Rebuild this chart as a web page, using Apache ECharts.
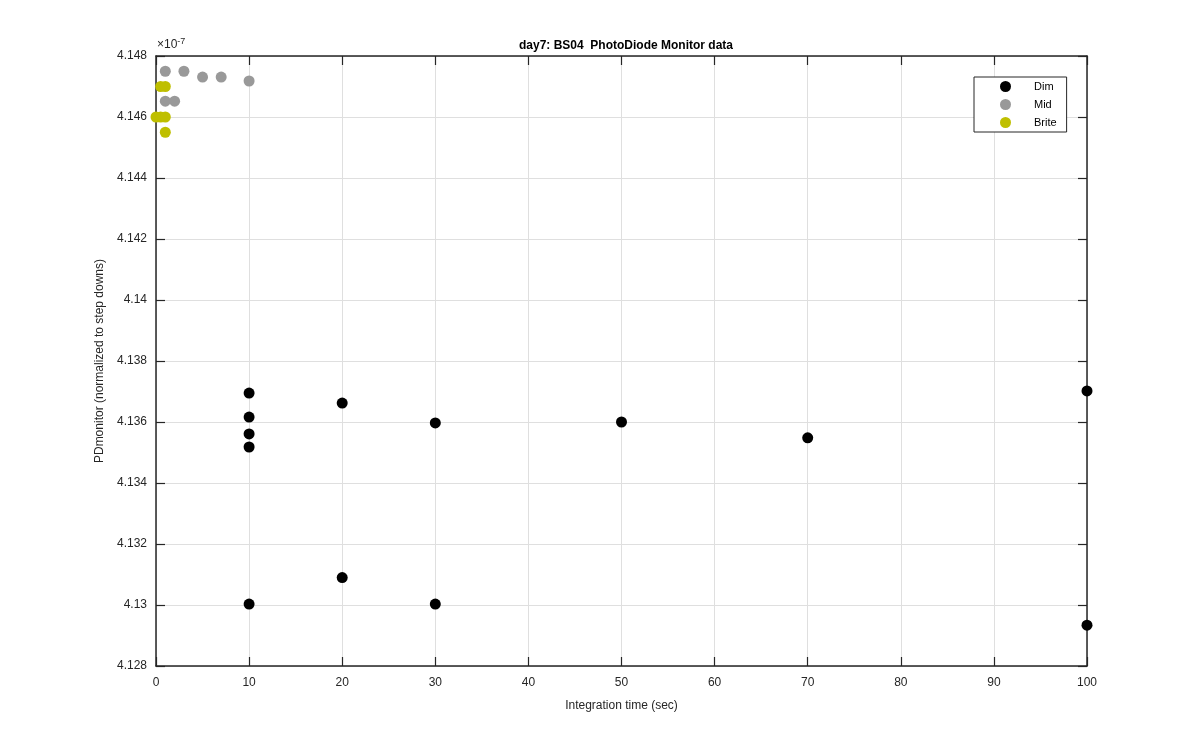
<!DOCTYPE html>
<html><head><meta charset="utf-8">
<script src="https://cdn.jsdelivr.net/npm/echarts@6/dist/echarts.min.js"></script>
<style>html,body{margin:0;padding:0;background:#fff}#c{width:1200px;height:750px}</style>
</head><body><div id="c"></div>
<script>
const titleText = 'day7: BS04  PhotoDiode Monitor data';
const xName = 'Integration time (sec)';
const yName = 'PDmonitor (normalized to step downs)';
const seriesNames = ['Dim', 'Mid', 'Brite'];
const dimX = [10, 10, 10, 10, 10, 20, 20, 30, 30, 50, 70, 100, 100];
const dimY = [4.13695, 4.13616, 4.13561, 4.13518, 4.13003, 4.13662, 4.13090, 4.13597, 4.13003, 4.13600, 4.13548, 4.13702, 4.12934];
const midX = [1, 3, 5, 7, 10, 1, 2];
const midY = [4.14750, 4.14750, 4.14731, 4.14731, 4.14718, 4.14652, 4.14652];
const briteX = [0.5, 1, 0, 0.5, 1, 1];
const briteY = [4.14700, 4.14700, 4.14600, 4.14600, 4.14600, 4.14550];
const colors = ['#000000', '#999999', '#bfbf00'];

function pairs(xs, ys) { return xs.map((x, i) => [x, ys[i]]); }
const font = 'Liberation Sans, Arial, Helvetica, sans-serif';
const chart = echarts.init(document.getElementById('c'), null, {renderer: 'canvas'});
const yFmt = v => { let s = v.toFixed(3); s = s.replace(/0+$/, '').replace(/\.$/, ''); return s; };
const axisLine = {show: true, onZero: false, lineStyle: {color: '#262626', width: 1.5}};
const tick = {show: true, inside: true, length: 9, lineStyle: {color: '#262626', width: 1.2}};
const gridLine = {show: true, lineStyle: {color: '#dfdfdf', width: 1}};
chart.setOption({
  animation: false,
  backgroundColor: '#ffffff',
  title: {text: titleText, left: 621, top: 35, textAlign: 'center',
    textStyle: {fontFamily: font, fontSize: 12, fontWeight: 'bold', color: '#000'}},
  graphic: [{type: 'text', left: 157, top: 37,
    style: {text: '×10{s|-7}', rich: {s: {fontSize: 9, verticalAlign: 'top', padding: [0,0,6,0], fill: '#262626', fontFamily: font}},
      fontSize: 12, fill: '#262626', fontFamily: font}}],
  legend: {orient: 'vertical', left: 974, top: 77, data: seriesNames,
    icon: 'circle', itemWidth: 11, itemHeight: 11, itemGap: 7,
    backgroundColor: '#fff', borderColor: '#262626', borderWidth: 1,
    padding: [4, 10, 4, 26],
    textStyle: {fontFamily: font, fontSize: 11, color: '#000', padding: [0, 0, 0, 18], width: 30}},
  grid: {left: 156, right: 113, top: 56, bottom: 84, containLabel: false},
  xAxis: [
    {type: 'value', min: 0, max: 100, interval: 10, name: xName, nameLocation: 'middle', nameGap: 34,
      nameTextStyle: {fontFamily: font, fontSize: 12, color: '#262626'},
      axisLine: axisLine, axisTick: tick,
      axisLabel: {fontFamily: font, fontSize: 12, color: '#262626', margin: 11},
      splitLine: gridLine},
    {type: 'value', position: 'top', min: 0, max: 100, interval: 10,
      axisLine: axisLine, axisTick: tick,
      axisLabel: {show: false}, splitLine: {show: false}}
  ],
  yAxis: [
    {type: 'value', position: 'left', min: 4.128, max: 4.148, interval: 0.002, name: yName, nameLocation: 'middle', nameGap: 50,
      nameTextStyle: {fontFamily: font, fontSize: 12, color: '#262626'},
      axisLine: axisLine, axisTick: tick,
      axisLabel: {fontFamily: font, fontSize: 12, color: '#262626', margin: 9, formatter: yFmt},
      splitLine: gridLine},
    {type: 'value', position: 'right', min: 4.128, max: 4.148, interval: 0.002,
      axisLine: axisLine, axisTick: tick,
      axisLabel: {show: false}, splitLine: {show: false}}
  ],
  series: [
    {name: seriesNames[0], type: 'scatter', symbolSize: 11, itemStyle: {color: colors[0], opacity: 1}, data: pairs(dimX, dimY), clip: false},
    {name: seriesNames[1], type: 'scatter', symbolSize: 11, itemStyle: {color: colors[1], opacity: 1}, data: pairs(midX, midY), clip: false},
    {name: seriesNames[2], type: 'scatter', symbolSize: 11, itemStyle: {color: colors[2], opacity: 1}, data: pairs(briteX, briteY), clip: false}
  ]
});
</script></body></html>
